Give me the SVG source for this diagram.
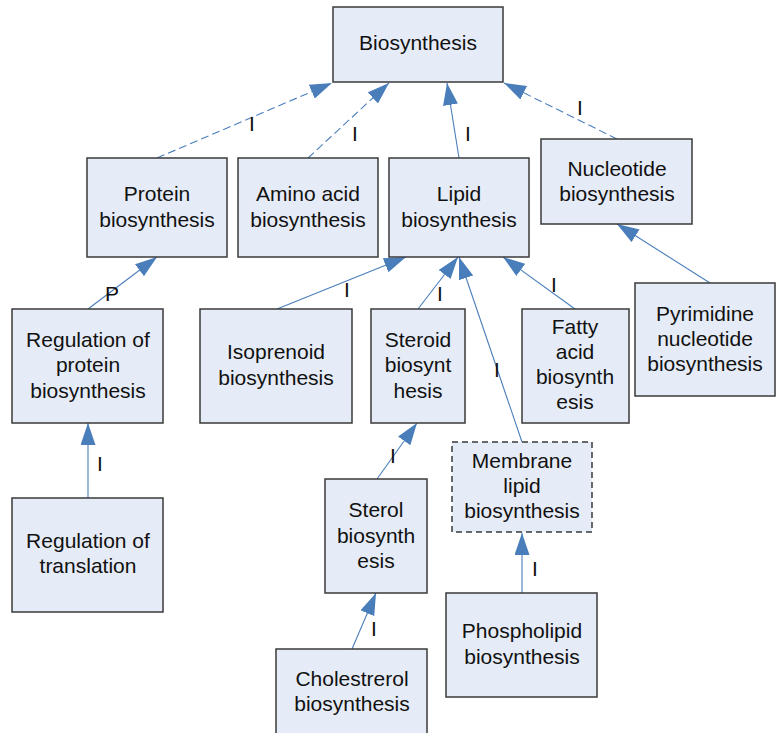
<svg xmlns="http://www.w3.org/2000/svg" width="776" height="733" viewBox="0 0 776 733">
<defs>
<marker id="ah" markerUnits="userSpaceOnUse" markerWidth="24" markerHeight="16" refX="22" refY="7.5" orient="auto" viewBox="0 0 24 16">
<path d="M0,0 L22,7.5 L0,15 z" fill="#4A7EBB"/>
</marker>
<style>
.box{fill:#E6ECF7;stroke:#3a3a3a;stroke-width:1.5}
.dbox{fill:#E6ECF7;stroke:#3a3a3a;stroke-width:1.5;stroke-dasharray:6 4}
text{font-family:"Liberation Sans",Arial,sans-serif;font-size:21px;fill:#111;text-anchor:middle}
.e{stroke:#4A7EBB;stroke-width:1.1;fill:none;marker-end:url(#ah)}
.d{stroke-dasharray:8 4}
</style>
</defs>
<rect width="776" height="733" fill="#fff"/>
<g id="connectors">
<line class="e d" x1="157" y1="158" x2="332" y2="83"/>
<line class="e d" x1="308" y1="158" x2="389" y2="83"/>
<line class="e" x1="459" y1="158" x2="447" y2="83"/>
<line class="e d" x1="617" y1="139" x2="504" y2="83"/>
<line class="e" x1="88" y1="309" x2="157" y2="257"/>
<line class="e" x1="277" y1="309" x2="406" y2="257"/>
<line class="e" x1="418" y1="309" x2="458" y2="257"/>
<line class="e" x1="522" y1="442" x2="459" y2="257"/>
<line class="e" x1="575" y1="309" x2="503" y2="257"/>
<line class="e" x1="710" y1="283" x2="617" y2="224"/>
<line class="e" x1="88" y1="498" x2="88" y2="423"/>
<line class="e" x1="377" y1="479" x2="417" y2="423"/>
<line class="e" x1="352" y1="649" x2="376" y2="593"/>
<line class="e" x1="522" y1="593" x2="522" y2="533"/>
<text x="252" y="131">I</text>
<text x="355" y="141">I</text>
<text x="468" y="141">I</text>
<text x="580" y="115">I</text>
<text x="112" y="301">P</text>
<text x="347" y="297">I</text>
<text x="440" y="301">I</text>
<text x="497" y="377">I</text>
<text x="554" y="292">I</text>
<text x="100" y="471">I</text>
<text x="393" y="463">I</text>
<text x="374" y="636">I</text>
<text x="535" y="576">I</text>
</g>
<g id="biosynthesis"><rect class="box" x="333" y="7" width="170" height="75"/><text x="418" y="50">Biosynthesis</text></g>
<g id="protein"><rect class="box" x="87" y="158" width="140" height="99"/><text x="157" y="201">Protein</text><text x="157" y="227">biosynthesis</text></g>
<g id="amino"><rect class="box" x="238" y="158" width="140" height="99"/><text x="308" y="201">Amino acid</text><text x="308" y="227">biosynthesis</text></g>
<g id="lipid"><rect class="box" x="389" y="158" width="140" height="99"/><text x="459" y="201">Lipid</text><text x="459" y="227">biosynthesis</text></g>
<g id="nucleotide"><rect class="box" x="541" y="139" width="151" height="85"/><text x="617" y="176">Nucleotide</text><text x="617" y="201">biosynthesis</text></g>
<g id="regprotein"><rect class="box" x="12" y="309" width="151" height="114"/><text x="88" y="347">Regulation of</text><text x="88" y="372">protein</text><text x="88" y="398">biosynthesis</text></g>
<g id="isoprenoid"><rect class="box" x="200" y="309" width="152" height="114"/><text x="276" y="359">Isoprenoid</text><text x="276" y="385">biosynthesis</text></g>
<g id="steroid"><rect class="box" x="371" y="309" width="94" height="114"/><text x="418" y="347">Steroid</text><text x="418" y="372">biosynt</text><text x="418" y="398">hesis</text></g>
<g id="fatty"><rect class="box" x="522" y="309" width="107" height="114"/><text x="575" y="334">Fatty</text><text x="575" y="359">acid</text><text x="575" y="384">biosynth</text><text x="575" y="409">esis</text></g>
<g id="pyrimidine"><rect class="box" x="635" y="283" width="140" height="113"/><text x="705" y="321">Pyrimidine</text><text x="705" y="346">nucleotide</text><text x="705" y="371">biosynthesis</text></g>
<g id="membrane"><rect class="dbox" x="452" y="442" width="140" height="90"/><text x="522" y="468">Membrane</text><text x="522" y="493">lipid</text><text x="522" y="518">biosynthesis</text></g>
<g id="sterol"><rect class="box" x="325" y="479" width="102" height="114"/><text x="376" y="517">Sterol</text><text x="376" y="543">biosynth</text><text x="376" y="568">esis</text></g>
<g id="phospholipid"><rect class="box" x="446" y="593" width="151" height="104"/><text x="522" y="638">Phospholipid</text><text x="522" y="664">biosynthesis</text></g>
<g id="cholesterol"><rect class="box" x="276" y="649" width="151" height="100"/><text x="352" y="686">Cholestrerol</text><text x="352" y="711">biosynthesis</text></g>
<g id="regtranslation"><rect class="box" x="12" y="498" width="151" height="114"/><text x="88" y="548">Regulation of</text><text x="88" y="573">translation</text></g>
</svg>
